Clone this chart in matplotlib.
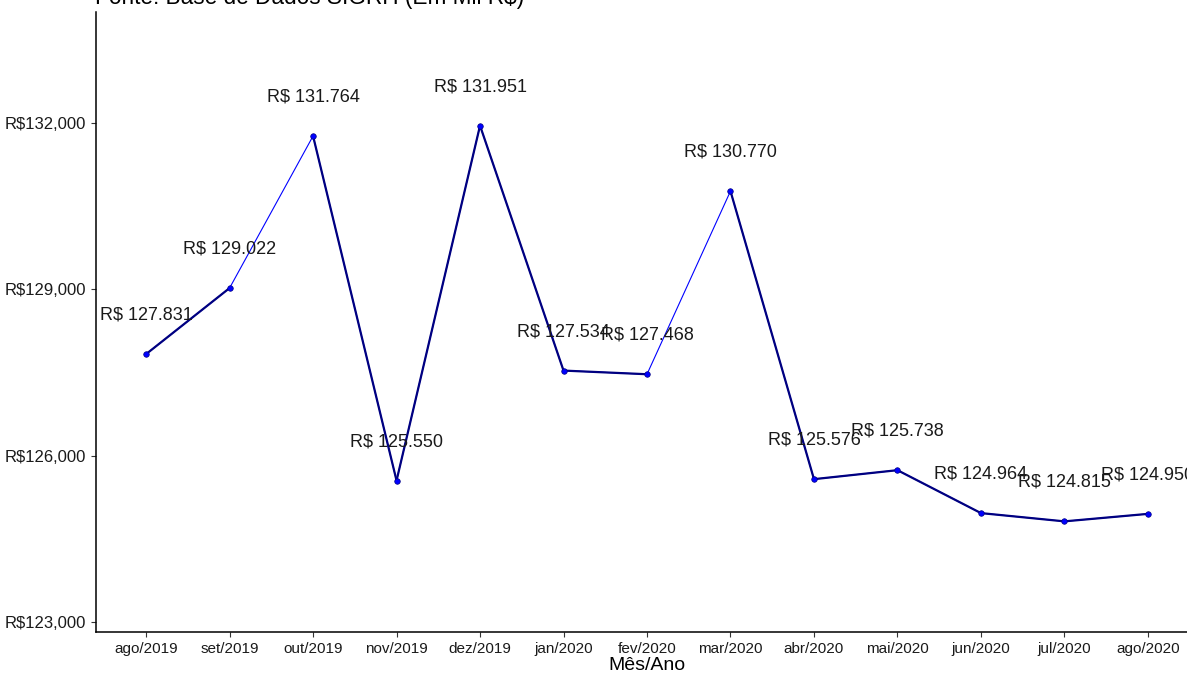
import numpy as np
import matplotlib.pyplot as plt

plt.rcParams['font.family'] = ['Liberation Sans', 'DejaVu Sans']

meses = ['ago/2019', 'set/2019', 'out/2019', 'nov/2019', 'dez/2019', 'jan/2020',
         'fev/2020', 'mar/2020', 'abr/2020', 'mai/2020', 'jun/2020', 'jul/2020',
         'ago/2020']
valores = [127831, 129022, 131764, 125550, 131951, 127534, 127468, 130770,
           125576, 125738, 124964, 124815, 124950]
y_ticks = [123000, 126000, 129000, 132000]

# segments drawn only with the thin blue line
finos = [1, 6]

x = np.arange(len(meses))
y = np.array(valores)

fig = plt.figure(figsize=(11.87, 6.75), dpi=100)
ax = fig.add_axes([96 / 1187, 43 / 675, (1198 - 96) / 1187, (663 - 43) / 675])

ax.plot(x, y, color='blue', lw=0.8, zorder=2)
for i in range(len(x) - 1):
    if i not in finos:
        ax.plot(x[i:i + 2], y[i:i + 2], color='#000080', lw=1.6, zorder=3)
ax.scatter(x, y, s=16, color='blue', edgecolors='#000080', linewidths=0.5, zorder=4)

for xi, yi in zip(x, y):
    txt = 'R$ ' + f'{yi:,}'.replace(',', '.')
    ax.annotate(txt, (xi, yi), xytext=(0, 28), textcoords='offset points',
                ha='center', va='center', fontsize=13, color='#1a1a1a',
                annotation_clip=False, zorder=5)

ax.set_xlim(-0.6, 12.6)
ax.set_ylim(122820, 134000)
ax.set_xticks(x)
ax.set_xticklabels(meses, fontsize=11, color='#1a1a1a')
ax.set_yticks(y_ticks)
ax.set_yticklabels([f'R${v:,}' for v in y_ticks], fontsize=12, color='#1a1a1a')
ax.tick_params(length=3.5, width=0.8, color='#333333')
ax.spines['top'].set_visible(False)
ax.spines['right'].set_visible(False)
ax.spines['left'].set_linewidth(1.1)
ax.spines['bottom'].set_linewidth(1.1)
ax.set_xlabel('Mês/Ano', fontsize=14, labelpad=1)

fig.text(95 / 1187, 1 - 4 / 675, 'Fonte: Base de Dados SIGRH (Em Mil R$)',
         fontsize=16.3, ha='left', va='baseline')

fig.savefig('out.png', dpi=100)
